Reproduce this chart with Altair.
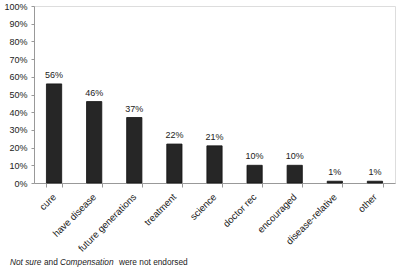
import altair as alt
import pandas as pd

categories = ["cure", "have disease", "future generations", "treatment", "science",
              "doctor rec", "encouraged", "disease-relative", "other"]
values = [56, 46, 37, 22, 21, 10, 10, 1, 1]
labels = [f"{v}%" for v in values]
y_ticks = [0, 10, 20, 30, 40, 50, 60, 70, 80, 90, 100]
footer_parts = ["Not sure", "and", "Compensation", "were not endorsed"]
footer_styles = ["italic", "normal", "italic", "normal"]

df = pd.DataFrame({"cat": categories, "val": [v / 100 for v in values], "lab": labels})

FONT = "Liberation Sans"

x = alt.X("cat:N", sort=categories, title=None,
          scale=alt.Scale(paddingInner=0.62, paddingOuter=0.31),
          axis=alt.Axis(labelAngle=-45, labelAlign="right", labelBaseline="middle",
                        labelFontSize=9.6, labelFont=FONT, labelColor="#222",
                        labelPadding=8, domainColor="#999", tickColor="#999",
                        tickSize=4, tickBand="extent", ticks=True, labelOverlap=False))
y = alt.Y("val:Q", title=None,
          scale=alt.Scale(domain=[0, 1], nice=False),
          axis=alt.Axis(format=".0%", values=[t / 100 for t in y_ticks],
                        labelFontSize=9, labelFont=FONT, labelColor="#222",
                        domainColor="#999", tickColor="#999", tickSize=3,
                        grid=False, labelPadding=4, labelOverlap=False, labelFlush=False))

base = alt.Chart(df)
bars = base.mark_bar(color="#262626", stroke="#111", strokeWidth=0.8).encode(x=x, y=y)
text = base.mark_text(dy=-9, fontSize=9, font=FONT, color="#222").encode(
    x=x, y=y, text="lab:N")

# page x positions of footer parts, converted to plot coordinates (left padding 34)
footer_px = [10, 44, 60, 119]
foot_layers = []
for t, st, px in zip(footer_parts, footer_styles, footer_px):
    foot_layers.append(
        alt.Chart(pd.DataFrame({"t": [t]})).mark_text(
            align="left", baseline="alphabetic", fontSize=8.3, font=FONT,
            fontStyle=st, color="#222").encode(
            text="t:N", x=alt.value(px - 34), y=alt.value(259))
    )

chart = alt.layer(bars, text, *foot_layers).properties(
    width=361, height=177,
    autosize=alt.AutoSizeParams(type="none"),
    padding={"left": 34, "top": 6, "right": 5, "bottom": 86},
).configure_view(stroke=None).configure(background="white")

chart.save("out.html", embed_options={"renderer": "svg", "actions": False})
